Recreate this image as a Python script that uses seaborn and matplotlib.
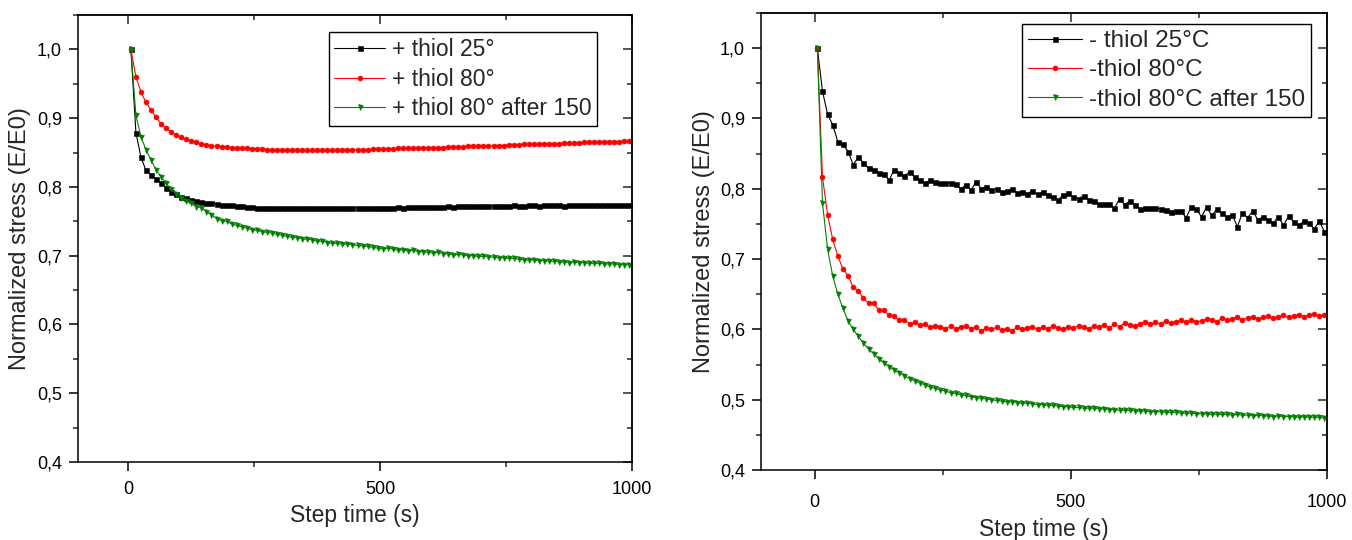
import numpy as np
import pandas as pd
import matplotlib
matplotlib.use("Agg")
import matplotlib.pyplot as plt
import seaborn as sns
from matplotlib.ticker import FuncFormatter, MultipleLocator, FixedLocator

# ---------------- data ----------------
STEP_TIME = [5, 15, 25, 35, 45, 55, 65, 75, 85, 95,
             105, 115, 125, 135, 145, 155, 165, 175, 185, 195,
             205, 215, 225, 235, 245, 255, 265, 275, 285, 295,
             305, 315, 325, 335, 345, 355, 365, 375, 385, 395,
             405, 415, 425, 435, 445, 455, 465, 475, 485, 495,
             505, 515, 525, 535, 545, 555, 565, 575, 585, 595,
             605, 615, 625, 635, 645, 655, 665, 675, 685, 695,
             705, 715, 725, 735, 745, 755, 765, 775, 785, 795,
             805, 815, 825, 835, 845, 855, 865, 875, 885, 895,
             905, 915, 925, 935, 945, 955, 965, 975, 985, 995]

LEFT_LABELS = ["+ thiol 25°", "+ thiol 80°", "+ thiol 80° after 150"]
RIGHT_LABELS = ["- thiol 25°C", "-thiol 80°C", "-thiol 80°C after 150"]

PLUS_25 = [1.000, 0.879, 0.843, 0.824, 0.817, 0.811, 0.805, 0.799, 0.793, 0.790,
           0.786, 0.784, 0.781, 0.780, 0.778, 0.777, 0.776, 0.775, 0.774, 0.773,
           0.773, 0.772, 0.772, 0.771, 0.771, 0.770, 0.770, 0.770, 0.770, 0.769,
           0.770, 0.769, 0.769, 0.770, 0.769, 0.769, 0.769, 0.769, 0.769, 0.769,
           0.769, 0.769, 0.770, 0.769, 0.769, 0.770, 0.769, 0.770, 0.770, 0.770,
           0.770, 0.770, 0.770, 0.771, 0.770, 0.771, 0.771, 0.771, 0.771, 0.771,
           0.771, 0.771, 0.771, 0.772, 0.771, 0.772, 0.772, 0.772, 0.772, 0.772,
           0.772, 0.772, 0.772, 0.772, 0.772, 0.772, 0.773, 0.772, 0.772, 0.773,
           0.773, 0.772, 0.773, 0.773, 0.773, 0.773, 0.772, 0.773, 0.773, 0.773,
           0.773, 0.773, 0.773, 0.773, 0.773, 0.773, 0.773, 0.773, 0.773, 0.773]

PLUS_80 = [1.000, 0.960, 0.938, 0.923, 0.912, 0.901, 0.892, 0.885, 0.880, 0.875,
           0.872, 0.869, 0.867, 0.865, 0.863, 0.861, 0.860, 0.859, 0.858, 0.858,
           0.857, 0.857, 0.856, 0.856, 0.855, 0.855, 0.855, 0.854, 0.854, 0.854,
           0.854, 0.854, 0.853, 0.853, 0.853, 0.853, 0.853, 0.853, 0.853, 0.853,
           0.853, 0.853, 0.854, 0.853, 0.854, 0.854, 0.854, 0.854, 0.855, 0.855,
           0.855, 0.855, 0.855, 0.856, 0.856, 0.856, 0.856, 0.856, 0.857, 0.857,
           0.857, 0.857, 0.857, 0.858, 0.858, 0.858, 0.858, 0.859, 0.859, 0.859,
           0.860, 0.859, 0.860, 0.860, 0.860, 0.861, 0.861, 0.861, 0.862, 0.862,
           0.862, 0.862, 0.863, 0.863, 0.863, 0.863, 0.864, 0.864, 0.864, 0.864,
           0.865, 0.865, 0.865, 0.865, 0.866, 0.866, 0.866, 0.866, 0.867, 0.867]

PLUS_80_AFTER = [1.000, 0.904, 0.873, 0.854, 0.839, 0.825, 0.814, 0.805, 0.797, 0.790,
                 0.784, 0.780, 0.776, 0.771, 0.770, 0.764, 0.759, 0.754, 0.751, 0.750,
                 0.746, 0.744, 0.742, 0.740, 0.738, 0.737, 0.735, 0.734, 0.733, 0.731,
                 0.730, 0.728, 0.727, 0.726, 0.725, 0.724, 0.723, 0.721, 0.721, 0.719,
                 0.718, 0.718, 0.717, 0.717, 0.716, 0.715, 0.714, 0.714, 0.712, 0.711,
                 0.710, 0.711, 0.710, 0.708, 0.709, 0.707, 0.708, 0.706, 0.706, 0.705,
                 0.704, 0.705, 0.703, 0.703, 0.701, 0.702, 0.701, 0.700, 0.700, 0.699,
                 0.699, 0.698, 0.698, 0.697, 0.697, 0.696, 0.696, 0.695, 0.694, 0.694,
                 0.694, 0.693, 0.693, 0.692, 0.692, 0.691, 0.691, 0.690, 0.691, 0.690,
                 0.690, 0.689, 0.689, 0.689, 0.688, 0.688, 0.688, 0.687, 0.687, 0.687]

MINUS_25 = [1.000, 0.939, 0.906, 0.891, 0.867, 0.863, 0.853, 0.834, 0.845, 0.837,
            0.829, 0.827, 0.822, 0.821, 0.812, 0.827, 0.823, 0.818, 0.824, 0.817,
            0.812, 0.808, 0.812, 0.809, 0.808, 0.808, 0.808, 0.807, 0.799, 0.806,
            0.798, 0.810, 0.800, 0.803, 0.798, 0.800, 0.795, 0.797, 0.799, 0.794,
            0.796, 0.793, 0.797, 0.792, 0.795, 0.791, 0.789, 0.784, 0.791, 0.794,
            0.788, 0.786, 0.790, 0.784, 0.782, 0.778, 0.778, 0.778, 0.772, 0.786,
            0.777, 0.783, 0.777, 0.771, 0.773, 0.773, 0.773, 0.771, 0.770, 0.767,
            0.769, 0.768, 0.759, 0.774, 0.771, 0.760, 0.774, 0.762, 0.771, 0.765,
            0.760, 0.763, 0.746, 0.766, 0.759, 0.768, 0.756, 0.760, 0.756, 0.751,
            0.760, 0.748, 0.761, 0.753, 0.748, 0.754, 0.751, 0.743, 0.754, 0.739]

MINUS_80 = [1.000, 0.817, 0.763, 0.728, 0.704, 0.686, 0.676, 0.660, 0.655, 0.644,
            0.637, 0.637, 0.627, 0.627, 0.620, 0.619, 0.613, 0.614, 0.608, 0.610,
            0.606, 0.607, 0.603, 0.605, 0.604, 0.601, 0.605, 0.601, 0.603, 0.605,
            0.601, 0.603, 0.598, 0.602, 0.600, 0.603, 0.599, 0.601, 0.598, 0.603,
            0.600, 0.602, 0.604, 0.600, 0.603, 0.601, 0.605, 0.602, 0.600, 0.604,
            0.602, 0.605, 0.603, 0.601, 0.605, 0.603, 0.606, 0.602, 0.607, 0.604,
            0.609, 0.606, 0.605, 0.608, 0.611, 0.607, 0.610, 0.608, 0.612, 0.609,
            0.611, 0.613, 0.610, 0.614, 0.611, 0.612, 0.615, 0.613, 0.611, 0.616,
            0.613, 0.615, 0.617, 0.614, 0.616, 0.618, 0.615, 0.617, 0.619, 0.616,
            0.618, 0.620, 0.617, 0.619, 0.621, 0.618, 0.620, 0.622, 0.619, 0.621]

MINUS_80_AFTER = [1.000, 0.780, 0.714, 0.676, 0.650, 0.630, 0.612, 0.600, 0.590, 0.580,
                  0.572, 0.565, 0.558, 0.552, 0.547, 0.542, 0.538, 0.534, 0.530, 0.527,
                  0.524, 0.521, 0.518, 0.516, 0.514, 0.512, 0.510, 0.509, 0.507, 0.506,
                  0.504, 0.503, 0.502, 0.501, 0.500, 0.499, 0.498, 0.497, 0.497, 0.496,
                  0.495, 0.495, 0.494, 0.493, 0.493, 0.492, 0.492, 0.491, 0.490, 0.490,
                  0.489, 0.489, 0.488, 0.488, 0.488, 0.487, 0.487, 0.486, 0.486, 0.485,
                  0.485, 0.485, 0.484, 0.484, 0.484, 0.483, 0.483, 0.483, 0.482, 0.482,
                  0.482, 0.481, 0.481, 0.481, 0.480, 0.480, 0.480, 0.479, 0.480, 0.479,
                  0.479, 0.478, 0.479, 0.478, 0.478, 0.477, 0.478, 0.477, 0.477, 0.476,
                  0.477, 0.476, 0.476, 0.476, 0.475, 0.476, 0.475, 0.475, 0.475, 0.474]

X_TICKS = [0, 500, 1000]
X_MINOR = [250, 750]
X_LABEL = "Step time (s)"
Y_LABEL = "Normalized stress (E/E0)"

COLORS = ["#000000", "#ff0000", "#008000"]
MARKERS = ["s", "o", "v"]

# ---------------- style ----------------
sns.set_style("ticks")
plt.rcParams["font.family"] = ["Liberation Sans", "DejaVu Sans"]

W, H = 1352, 540
fig = plt.figure(figsize=(W / 100, H / 100), dpi=100)
fig.patch.set_facecolor("white")

def px_axes(x0, y0, x1, y1):
    return fig.add_axes([x0 / W, 1 - y1 / H, (x1 - x0) / W, (y1 - y0) / H])

ax1 = px_axes(78, 15, 632, 462)
ax2 = px_axes(761, 13, 1327, 470)

yfmt = FuncFormatter(lambda v, p: f"{v:.1f}".replace(".", ","))


def draw(ax, series, labels, xlim, leg_anchor, leg_fs, xpad, xlabel_y, ylabel_x):
    for vals, lab, col, mk in zip(series, labels, COLORS, MARKERS):
        sns.lineplot(x=STEP_TIME, y=vals, ax=ax, color=col, marker=mk,
                     markersize=3.6, markeredgewidth=0.4, markeredgecolor=col,
                     linewidth=0.8, label=lab, estimator=None, sort=False)
    ax.set_xlim(*xlim)
    ax.set_ylim(0.4, 1.05)
    ax.xaxis.set_major_locator(FixedLocator(X_TICKS))
    ax.xaxis.set_minor_locator(FixedLocator(X_MINOR))
    ax.yaxis.set_major_locator(MultipleLocator(0.1))
    ax.yaxis.set_minor_locator(MultipleLocator(0.05))
    ax.yaxis.set_major_formatter(yfmt)
    ax.tick_params(which="major", direction="out", length=6.5, width=1.1,
                   labelsize=13, colors="black")
    ax.tick_params(which="minor", direction="out", length=3.6, width=1.1)
    ax.tick_params(axis="x", which="major", pad=xpad)
    ax.tick_params(axis="y", which="major", pad=5)
    for s in ax.spines.values():
        s.set_visible(True)
        s.set_linewidth(1.1)
        s.set_color("black")
    # inward ticks on top and right
    sx = ax.secondary_xaxis("top")
    sx.xaxis.set_major_locator(FixedLocator(X_TICKS))
    sx.xaxis.set_minor_locator(FixedLocator(X_MINOR))
    sx.tick_params(which="major", direction="in", length=6.5, width=1.1, labeltop=False)
    sx.tick_params(which="minor", direction="in", length=3.6, width=1.1)
    sx.spines["top"].set_linewidth(1.1)
    sy = ax.secondary_yaxis("right")
    sy.yaxis.set_major_locator(MultipleLocator(0.1))
    sy.yaxis.set_minor_locator(MultipleLocator(0.05))
    sy.tick_params(which="major", direction="in", length=6.5, width=1.1, labelright=False)
    sy.tick_params(which="minor", direction="in", length=3.6, width=1.1)
    sy.spines["right"].set_linewidth(1.1)

    ax.set_xlabel(X_LABEL, fontsize=16.5)
    ax.set_ylabel(Y_LABEL, fontsize=17)
    ax.xaxis.set_label_coords(0.5, xlabel_y)
    ax.yaxis.set_label_coords(ylabel_x, 0.5)

    leg = ax.legend(loc="upper right", bbox_to_anchor=leg_anchor, borderaxespad=0,
                    frameon=True, fancybox=False, edgecolor="black", framealpha=1,
                    fontsize=leg_fs, handlelength=2.2, handletextpad=0.3,
                    labelspacing=0.3, borderpad=0.25, numpoints=1)
    leg.get_frame().set_linewidth(1.0)


draw(ax1, [PLUS_25, PLUS_80, PLUS_80_AFTER], LEFT_LABELS, (-100, 1000),
     (0.937, 0.962), 16.5, 7, -0.095, -0.084)
draw(ax2, [MINUS_25, MINUS_80, MINUS_80_AFTER], RIGHT_LABELS, (-105, 1000),
     (0.972, 0.976), 17.5, 11, -0.105, -0.082)

fig.savefig("out.png", dpi=100, facecolor="white")
